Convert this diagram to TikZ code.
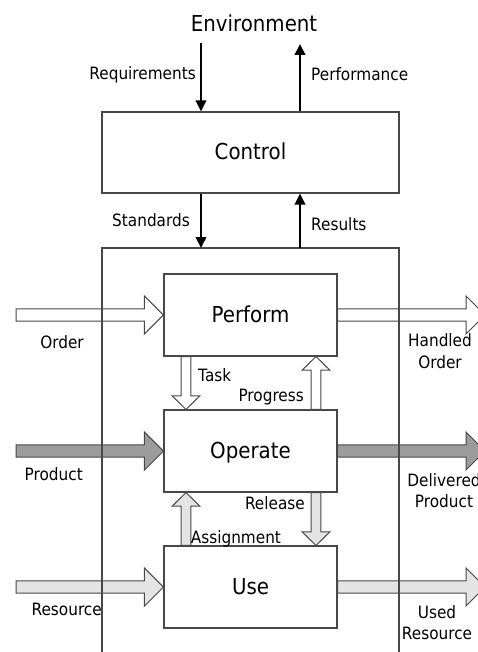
\documentclass[tikz,border=0pt]{standalone}
\usepackage{fontspec}
\setmainfont{DejaVu Sans}[FakeStretch=0.9]
\usetikzlibrary{calc,arrows.meta}

\definecolor{edgegray}{HTML}{484848}
\definecolor{flowdark}{HTML}{9C9C9C}
\definecolor{flowlight}{HTML}{E4E4E4}

% Block (hollow) arrow from #2 to the tip #3, drawn as a closed outline.
% Shaft half width \fsw, head half width \fhw, head length \fhl.
\newcommand\flowarrow[3]{%
  \filldraw[#1] ($(#2)!\fsw!90:(#3)$)
    -- ($(#3)!\fhl!(#2)!\fsw!-90:(#2)$)
    -- ($(#3)!\fhl!(#2)!\fhw!-90:(#2)$)
    -- (#3)
    -- ($(#3)!\fhl!(#2)!\fhw!90:(#2)$)
    -- ($(#3)!\fhl!(#2)!\fsw!90:(#2)$)
    -- ($(#2)!\fsw!-90:(#3)$) -- cycle;}

\begin{document}
\begin{tikzpicture}[x=1pt,y=-1pt,
  box/.style={draw=edgegray,line width=1.1pt,minimum width=173pt,
    minimum height=82pt,inner sep=0pt,text height=15pt,text depth=1pt,
    font=\fontsize{22}{26}\selectfont},
  bigtext/.style={inner sep=0pt,font=\fontsize{22}{26}\selectfont},
  lbl/.style={inner sep=0pt,font=\fontsize{17}{20.5}\selectfont},
  frame/.style={draw=edgegray,line width=1.1pt},
  signal/.style={draw=black,line width=2pt,
    -{Triangle[length=11pt,width=10.5pt]}},
  wide/.code={\def\fsw{6.2pt}\def\fhw{19pt}\def\fhl{19pt}},
  narrow/.code={\def\fsw{4.8pt}\def\fhw{13.8pt}\def\fhl{13.5pt}},
  flowwhite/.style={draw=edgegray,line width=1pt,fill=white,line join=miter},
  flowgray/.style={draw=edgegray,line width=1pt,fill=flowdark,line join=miter},
  flowpale/.style={draw=edgegray,line width=1pt,fill=flowlight,line join=miter}]

\useasboundingbox (0,0) rectangle (478,652);
\clip (0,0) rectangle (478,652);

% Boxes
\node[box,minimum width=297pt,minimum height=81pt] (control) at (250.5,152.5) {Control};
\node[box] (perform) at (250.5,315) {Perform};
\node[box] (operate) at (250.5,451) {Operate};
\node[box] (use) at (250.5,587) {Use};

% System boundary corners
\coordinate (sysBL) at (102,660);
\coordinate (sysTR) at (399,248);
\coordinate (sysBR) at (399,660);

% End points of the flows
\coordinate (orderIn)    at (perform.west -| 16,0);
\coordinate (orderOut)   at (perform.east -| 485,0);
\coordinate (productIn)  at (operate.west -| 16,0);
\coordinate (productOut) at (operate.east -| 485,0);
\coordinate (resIn)      at (use.west -| 16,0);
\coordinate (resOut)     at (use.east -| 485,0);
\coordinate (taskA)    at (perform.south -| 186,0);
\coordinate (taskB)    at (operate.north -| 186,0);
\coordinate (progA)    at (operate.north -| 316,0);
\coordinate (progB)    at (perform.south -| 316,0);
\coordinate (assignA)  at (use.north -| 186,0);
\coordinate (assignB)  at (operate.south -| 186,0);
\coordinate (releaseA) at (operate.south -| 316,0);
\coordinate (releaseB) at (use.north -| 316,0);

% Horizontal flows
\flowarrow{flowwhite,wide}{orderIn}{perform.west}
\flowarrow{flowwhite,wide}{perform.east}{orderOut}
\flowarrow{flowgray,wide}{productIn}{operate.west}
\flowarrow{flowgray,wide}{operate.east}{productOut}
\flowarrow{flowpale,wide}{resIn}{use.west}
\flowarrow{flowpale,wide}{use.east}{resOut}

% Vertical flows
\flowarrow{flowwhite,narrow}{taskA}{taskB}
\flowarrow{flowwhite,narrow}{progA}{progB}
\flowarrow{flowpale,narrow}{assignA}{assignB}
\flowarrow{flowpale,narrow}{releaseA}{releaseB}

% System boundary
\draw[frame] (sysBL) |- (sysTR) -- (sysBR);

% Control signals
\node[bigtext,anchor=base] (env) at (254,31.7) {Environment};
\coordinate (envIn)  at (201,43);
\coordinate (envOut) at (300,44);
\draw[signal] (envIn) -- (envIn |- control.north);
\draw[signal] (envOut |- control.north) -- (envOut);
\draw[signal] (envIn |- control.south) -- (envIn |- sysTR);
\draw[signal] (envOut |- sysTR) -- (envOut |- control.south);

% Labels
\node[lbl,anchor=base east] (reqL)  at (196,79.5)  {Requirements};
\node[lbl,anchor=base west] (perfL) at (311,80.5)  {Performance};
\node[lbl,anchor=base east] (stdL)  at (190,226.5) {Standards};
\node[lbl,anchor=base west] (resL)  at (311,230.5) {Results};

\node[lbl,anchor=base] (orderL) at (62,348) {Order};
\node[lbl,anchor=base,align=center,font=\fontsize{17}{21.5}\selectfont] (handledL) at (440,368.3) {Handled\\Order};
\node[lbl,anchor=base west] (taskL) at (198,381) {Task};
\node[lbl,anchor=base east] (progL) at (304,401.7) {Progress};

\node[lbl,anchor=base] (prodL) at (53.7,480) {Product};
\node[lbl,anchor=base,align=center] (delivL) at (444,507.3) {Delivered\\Product};
\node[lbl,anchor=base east] (relL) at (305,509.3) {Release};
\node[lbl,anchor=base west] (assignL) at (190.7,543.3) {Assignment};

\node[lbl,anchor=base] (resourceL) at (66.7,615.7) {Resource};
\node[lbl,anchor=base,align=center] (usedL) at (437,639.3) {Used\\Resource};
\end{tikzpicture}
\end{document}
